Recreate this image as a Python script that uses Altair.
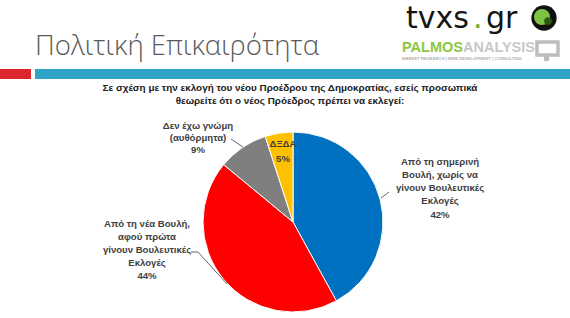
import altair as alt
import pandas as pd

# ---- data ----
categories = [
    "Από τη σημερινή Βουλή, χωρίς να γίνουν Βουλευτικές Εκλογές",
    "Από τη νέα Βουλή, αφού πρώτα γίνουν Βουλευτικές Εκλογές",
    "Δεν έχω γνώμη (αυθόρμητα)",
    "ΔΞΔΑ",
]
values = [42, 44, 9, 5]
label_lines = [
    ["Από τη σημερινή", "Βουλή, χωρίς να", "γίνουν Βουλευτικές", "Εκλογές"],
    ["Από τη νέα Βουλή,", "αφού πρώτα", "γίνουν Βουλευτικές", "Εκλογές"],
    ["Δεν έχω γνώμη", "(αυθόρμητα)"],
    ["ΔΞΔΑ"],
]
title_text = "Πολιτική Επικαιρότητα"
question_lines = [
    "Σε σχέση με την εκλογή του νέου Προέδρου της Δημοκρατίας, εσείς προσωπικά",
    "θεωρείτε ότι ο νέος Πρόεδρος πρέπει να εκλεγεί:",
]
logo_parts = ["tvxs", ".", "gr"]
logo_sub = "MARKET RESEARCH | WEB DEVELOPMENT | CONSULTING"

# ---- styles ----
slice_colors = ["#0070C0", "#FF0000", "#7F7F7F", "#FFC000"]
W, H = 570, 318
CX, CY, R = 293, 222, 90
LBL_FONT = "Liberation Sans, Arial"
TXT_COL = "#404040"

pie_df = pd.DataFrame({"cat": categories, "value": values, "idx": list(range(len(values)))})
one = pd.DataFrame({"a": [0]})

pie = alt.Chart(pie_df).mark_arc(outerRadius=R, stroke="white", strokeWidth=1).encode(
    theta=alt.Theta("value:Q", stack=True),
    color=alt.Color("cat:N", scale=alt.Scale(domain=categories, range=slice_colors), legend=None),
    order=alt.Order("idx:Q"),
    x=alt.value(CX),
    y=alt.value(CY),
)


def txt(text, x, y, size, color=TXT_COL, font=LBL_FONT, weight="bold", align="center", lh=13):
    return alt.Chart(one).mark_text(
        font=font, fontSize=size, fontWeight=weight, color=color, align=align,
        baseline="alphabetic", lineHeight=lh,
    ).encode(x=alt.value(x), y=alt.value(y), text=alt.value(text))


def seg(x1, y1, x2, y2, color="#404040", w=0.8):
    return alt.Chart(one).mark_rule(color=color, strokeWidth=w).encode(
        x=alt.value(x1), y=alt.value(y1), x2=alt.value(x2), y2=alt.value(y2)
    )


def box(x1, y1, x2, y2, fill, stroke=None, sw=0):
    kw = dict(color=fill)
    if stroke:
        kw = dict(fill=fill, stroke=stroke, strokeWidth=sw)
    return alt.Chart(one).mark_rect(**kw).encode(
        x=alt.value(x1), y=alt.value(y1), x2=alt.value(x2), y2=alt.value(y2)
    )


def dot(x, y, size, fill, stroke=None, sw=0):
    kw = dict(filled=True, size=size, color=fill, opacity=1)
    if stroke:
        kw.update(stroke=stroke, strokeWidth=sw)
    return alt.Chart(one).mark_point(**kw).encode(x=alt.value(x), y=alt.value(y))


FS = 9.6
labels = [
    txt(label_lines[0] + [f"{values[0]}%"], 440, 164.5, FS, lh=13.3),
    txt(label_lines[1] + [f"{values[1]}%"], 147, 226.5, FS, lh=13.2),
    txt(label_lines[2] + [f"{values[2]}%"], 198, 128.5, FS, lh=12),
    txt(label_lines[3] + [f"{values[3]}%"], 283, 146.5, FS, lh=15),
]
leaders = [
    seg(381, 198, 389, 192),
    seg(191, 252, 198, 252),
    seg(198, 252, 227, 284),
    seg(231, 139, 243, 147),
]

logo = [
    txt(logo_parts[0], 406, 28, 30, color="#151515", font="DejaVu Sans", weight="normal", align="left"),
    txt(logo_parts[1], 473, 28, 30, color="#6AAE2A", font="DejaVu Sans", weight="normal", align="left"),
    txt(logo_parts[2], 486, 28, 30, color="#151515", font="DejaVu Sans", weight="normal", align="left"),
    dot(544, 18, 640, "#111111"),
    dot(542, 17, 260, "#7DC242"),
    dot(548, 21, 60, "#2E5A12"),
    txt("PALMOS", 402, 52, 14.5, color="#8DC63F", align="left"),
    txt("ANALYSIS", 463, 52, 14.5, color="#C8C8C8", align="left"),
    box(537, 42, 558, 55, "white", stroke="#BDBDBD", sw=3.5),
    box(544, 55, 549, 61, "#BDBDBD"),
    txt(logo_sub, 402, 60, 4.2, color="#B0B0B0", align="left"),
]

header = [
    txt(title_text, 35, 55, 27.6, color="#595959", font="Open Sans", weight=300, align="left"),
    box(0, 69, 31, 79, "#D9262F"),
    box(35, 69, 570, 79, "#2EA3C5"),
    txt(question_lines, 290, 91, 9.9, color="#202020", lh=13),
]

chart = alt.layer(pie, *leaders, *labels, *header, *logo).properties(
    width=W, height=H, padding=0, autosize=alt.AutoSizeParams(type="none"),
    background="white",
).configure_view(stroke=None)

chart.save("out.html", embed_options={"renderer": "svg", "actions": False})
